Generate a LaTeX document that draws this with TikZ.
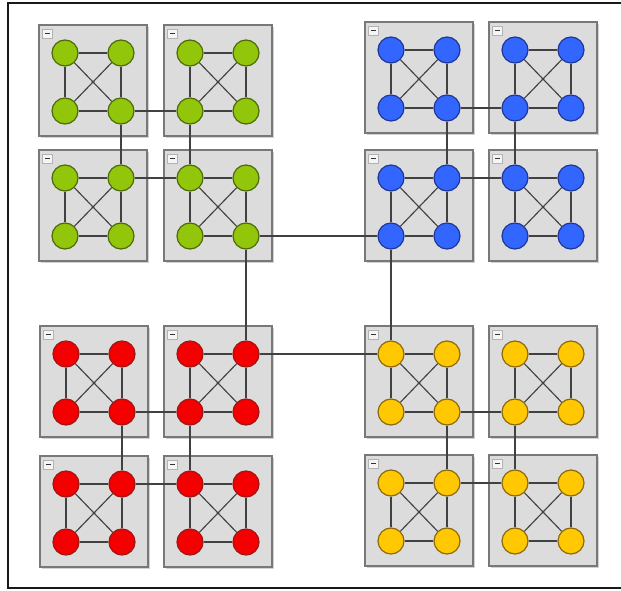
\documentclass[tikz,border=0pt]{standalone}
\usetikzlibrary{shadows}
\definecolor{gfill}{RGB}{146,198,10}
\definecolor{gline}{RGB}{78,105,10}
\definecolor{bfill}{RGB}{51,102,255}
\definecolor{bline}{RGB}{30,55,150}
\definecolor{rfill}{RGB}{245,0,0}
\definecolor{rline}{RGB}{160,20,20}
\definecolor{yfill}{RGB}{255,200,0}
\definecolor{yline}{RGB}{140,105,10}
\definecolor{boxgray}{RGB}{220,220,220}
\definecolor{boxline}{RGB}{120,120,120}
\definecolor{edgegray}{RGB}{65,65,65}
\tikzset{
  clbox/.style={rectangle, inner sep=0pt, minimum width=81pt, minimum height=83.25pt,
    fill=boxgray, draw=boxline, line width=0.9pt,
    drop shadow={shadow xshift=1.2pt, shadow yshift=-1.2pt, opacity=0.35}},
  minibox/.style={rectangle, inner sep=0pt, minimum width=7.5pt, minimum height=6.75pt,
    fill=white!92!gray, draw=gray!60, line width=0.4pt},
  dot/.style={circle, inner sep=0pt, minimum size=19.5pt, line width=0.9pt},
  edge/.style={draw=edgegray, line width=0.85pt}
}
\newcommand\grpmake[4]{%
  \node[clbox] (#1box) at (#2+54,#3+55.5) {};
  \node[minibox] (#1min) at (#2+8.5,#3+8.5) {};
  \draw[line width=1.1pt, black!80] ([xshift=-1.8pt]#1min.center) -- ([xshift=1.8pt]#1min.center);
  \node[dot, fill=#4fill, draw=#4line] (#1a) at (#2+26,#3+28) {};
  \node[dot, fill=#4fill, draw=#4line] (#1b) at (#2+82,#3+28) {};
  \node[dot, fill=#4fill, draw=#4line] (#1c) at (#2+26,#3+86) {};
  \node[dot, fill=#4fill, draw=#4line] (#1d) at (#2+82,#3+86) {};
}
\newcommand\grpedges[1]{%
  \draw[edge] (#1a) -- (#1b);
  \draw[edge] (#1a) -- (#1c);
  \draw[edge] (#1b) -- (#1d);
  \draw[edge] (#1c) -- (#1d);
  \draw[edge] (#1a) -- (#1d);
  \draw[edge] (#1b) -- (#1c);
}
\newcommand\quadedges[1]{%
  \draw[edge] (#11d) -- (#12c);
  \draw[edge] (#11d) -- (#13b);
  \draw[edge] (#12c) -- (#14a);
  \draw[edge] (#13b) -- (#14a);
}
\begin{document}
\begin{tikzpicture}[x=0.75pt, y=-0.75pt]
\useasboundingbox (0,0) rectangle (621,591);
\fill[white] (0,0) rectangle (621,591);
\draw[line width=1.9pt, black!90] (625,3) -- (8,3) -- (8,588) -- (625,588);
% green
\grpmake{g1}{39}{25}{g}
\grpmake{g2}{164}{25}{g}
\grpmake{g3}{39}{150}{g}
\grpmake{g4}{164}{150}{g}
% blue
\grpmake{b1}{365}{22}{b}
\grpmake{b2}{489}{22}{b}
\grpmake{b3}{365}{150}{b}
\grpmake{b4}{489}{150}{b}
% red
\grpmake{r1}{40}{326}{r}
\grpmake{r2}{164}{326}{r}
\grpmake{r3}{40}{456}{r}
\grpmake{r4}{164}{456}{r}
% yellow
\grpmake{y1}{365}{326}{y}
\grpmake{y2}{489}{326}{y}
\grpmake{y3}{365}{455}{y}
\grpmake{y4}{489}{455}{y}
% edges inside clusters
\grpedges{g1}\grpedges{g2}\grpedges{g3}\grpedges{g4}
\grpedges{b1}\grpedges{b2}\grpedges{b3}\grpedges{b4}
\grpedges{r1}\grpedges{r2}\grpedges{r3}\grpedges{r4}
\grpedges{y1}\grpedges{y2}\grpedges{y3}\grpedges{y4}
% edges between clusters
\quadedges{g}\quadedges{b}\quadedges{r}\quadedges{y}
% edges between groups
\draw[edge] (g4d) -- (b3c);
\draw[edge] (g4d) -- (r2b);
\draw[edge] (r2b) -- (y1a);
\draw[edge] (b3c) -- (y1a);
\end{tikzpicture}
\end{document}
